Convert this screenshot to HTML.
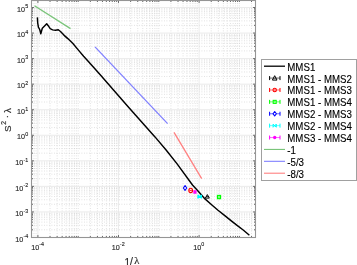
<!DOCTYPE html><html><head><meta charset="utf-8"><style>
html,body{margin:0;padding:0;background:#fff;width:357px;height:265px;overflow:hidden}
svg{display:block;will-change:transform;filter:blur(0.3px)}
text{font-family:"Liberation Sans",sans-serif}
</style></head><body>
<svg width="357" height="265" viewBox="0 0 357 265">
<rect x="0" y="0" width="357" height="265" fill="#fff"/>
<line x1="31.66" y1="0.5" x2="31.66" y2="237.5" stroke="#cccccc" stroke-width="0.7" stroke-dasharray="0.8 1.7"/><line x1="33.99" y1="0.5" x2="33.99" y2="237.5" stroke="#cccccc" stroke-width="0.7" stroke-dasharray="0.8 1.7"/><line x1="36.06" y1="0.5" x2="36.06" y2="237.5" stroke="#cccccc" stroke-width="0.7" stroke-dasharray="0.8 1.7"/><line x1="50.03" y1="0.5" x2="50.03" y2="237.5" stroke="#cccccc" stroke-width="0.7" stroke-dasharray="0.8 1.7"/><line x1="57.13" y1="0.5" x2="57.13" y2="237.5" stroke="#cccccc" stroke-width="0.7" stroke-dasharray="0.8 1.7"/><line x1="62.16" y1="0.5" x2="62.16" y2="237.5" stroke="#cccccc" stroke-width="0.7" stroke-dasharray="0.8 1.7"/><line x1="66.07" y1="0.5" x2="66.07" y2="237.5" stroke="#cccccc" stroke-width="0.7" stroke-dasharray="0.8 1.7"/><line x1="69.26" y1="0.5" x2="69.26" y2="237.5" stroke="#cccccc" stroke-width="0.7" stroke-dasharray="0.8 1.7"/><line x1="71.96" y1="0.5" x2="71.96" y2="237.5" stroke="#cccccc" stroke-width="0.7" stroke-dasharray="0.8 1.7"/><line x1="74.29" y1="0.5" x2="74.29" y2="237.5" stroke="#cccccc" stroke-width="0.7" stroke-dasharray="0.8 1.7"/><line x1="76.36" y1="0.5" x2="76.36" y2="237.5" stroke="#cccccc" stroke-width="0.7" stroke-dasharray="0.8 1.7"/><line x1="78.20" y1="0.5" x2="78.20" y2="237.5" stroke="#cccccc" stroke-width="0.7" stroke-dasharray="0.8 1.7"/><line x1="90.33" y1="0.5" x2="90.33" y2="237.5" stroke="#cccccc" stroke-width="0.7" stroke-dasharray="0.8 1.7"/><line x1="97.43" y1="0.5" x2="97.43" y2="237.5" stroke="#cccccc" stroke-width="0.7" stroke-dasharray="0.8 1.7"/><line x1="102.46" y1="0.5" x2="102.46" y2="237.5" stroke="#cccccc" stroke-width="0.7" stroke-dasharray="0.8 1.7"/><line x1="106.37" y1="0.5" x2="106.37" y2="237.5" stroke="#cccccc" stroke-width="0.7" stroke-dasharray="0.8 1.7"/><line x1="109.56" y1="0.5" x2="109.56" y2="237.5" stroke="#cccccc" stroke-width="0.7" stroke-dasharray="0.8 1.7"/><line x1="112.26" y1="0.5" x2="112.26" y2="237.5" stroke="#cccccc" stroke-width="0.7" stroke-dasharray="0.8 1.7"/><line x1="114.59" y1="0.5" x2="114.59" y2="237.5" stroke="#cccccc" stroke-width="0.7" stroke-dasharray="0.8 1.7"/><line x1="116.66" y1="0.5" x2="116.66" y2="237.5" stroke="#cccccc" stroke-width="0.7" stroke-dasharray="0.8 1.7"/><line x1="130.63" y1="0.5" x2="130.63" y2="237.5" stroke="#cccccc" stroke-width="0.7" stroke-dasharray="0.8 1.7"/><line x1="137.73" y1="0.5" x2="137.73" y2="237.5" stroke="#cccccc" stroke-width="0.7" stroke-dasharray="0.8 1.7"/><line x1="142.76" y1="0.5" x2="142.76" y2="237.5" stroke="#cccccc" stroke-width="0.7" stroke-dasharray="0.8 1.7"/><line x1="146.67" y1="0.5" x2="146.67" y2="237.5" stroke="#cccccc" stroke-width="0.7" stroke-dasharray="0.8 1.7"/><line x1="149.86" y1="0.5" x2="149.86" y2="237.5" stroke="#cccccc" stroke-width="0.7" stroke-dasharray="0.8 1.7"/><line x1="152.56" y1="0.5" x2="152.56" y2="237.5" stroke="#cccccc" stroke-width="0.7" stroke-dasharray="0.8 1.7"/><line x1="154.89" y1="0.5" x2="154.89" y2="237.5" stroke="#cccccc" stroke-width="0.7" stroke-dasharray="0.8 1.7"/><line x1="156.96" y1="0.5" x2="156.96" y2="237.5" stroke="#cccccc" stroke-width="0.7" stroke-dasharray="0.8 1.7"/><line x1="158.80" y1="0.5" x2="158.80" y2="237.5" stroke="#cccccc" stroke-width="0.7" stroke-dasharray="0.8 1.7"/><line x1="170.93" y1="0.5" x2="170.93" y2="237.5" stroke="#cccccc" stroke-width="0.7" stroke-dasharray="0.8 1.7"/><line x1="178.03" y1="0.5" x2="178.03" y2="237.5" stroke="#cccccc" stroke-width="0.7" stroke-dasharray="0.8 1.7"/><line x1="183.06" y1="0.5" x2="183.06" y2="237.5" stroke="#cccccc" stroke-width="0.7" stroke-dasharray="0.8 1.7"/><line x1="186.97" y1="0.5" x2="186.97" y2="237.5" stroke="#cccccc" stroke-width="0.7" stroke-dasharray="0.8 1.7"/><line x1="190.16" y1="0.5" x2="190.16" y2="237.5" stroke="#cccccc" stroke-width="0.7" stroke-dasharray="0.8 1.7"/><line x1="192.86" y1="0.5" x2="192.86" y2="237.5" stroke="#cccccc" stroke-width="0.7" stroke-dasharray="0.8 1.7"/><line x1="195.19" y1="0.5" x2="195.19" y2="237.5" stroke="#cccccc" stroke-width="0.7" stroke-dasharray="0.8 1.7"/><line x1="197.26" y1="0.5" x2="197.26" y2="237.5" stroke="#cccccc" stroke-width="0.7" stroke-dasharray="0.8 1.7"/><line x1="211.23" y1="0.5" x2="211.23" y2="237.5" stroke="#cccccc" stroke-width="0.7" stroke-dasharray="0.8 1.7"/><line x1="218.33" y1="0.5" x2="218.33" y2="237.5" stroke="#cccccc" stroke-width="0.7" stroke-dasharray="0.8 1.7"/><line x1="223.36" y1="0.5" x2="223.36" y2="237.5" stroke="#cccccc" stroke-width="0.7" stroke-dasharray="0.8 1.7"/><line x1="227.27" y1="0.5" x2="227.27" y2="237.5" stroke="#cccccc" stroke-width="0.7" stroke-dasharray="0.8 1.7"/><line x1="230.46" y1="0.5" x2="230.46" y2="237.5" stroke="#cccccc" stroke-width="0.7" stroke-dasharray="0.8 1.7"/><line x1="233.16" y1="0.5" x2="233.16" y2="237.5" stroke="#cccccc" stroke-width="0.7" stroke-dasharray="0.8 1.7"/><line x1="235.49" y1="0.5" x2="235.49" y2="237.5" stroke="#cccccc" stroke-width="0.7" stroke-dasharray="0.8 1.7"/><line x1="237.56" y1="0.5" x2="237.56" y2="237.5" stroke="#cccccc" stroke-width="0.7" stroke-dasharray="0.8 1.7"/><line x1="239.40" y1="0.5" x2="239.40" y2="237.5" stroke="#cccccc" stroke-width="0.7" stroke-dasharray="0.8 1.7"/><line x1="251.53" y1="0.5" x2="251.53" y2="237.5" stroke="#cccccc" stroke-width="0.7" stroke-dasharray="0.8 1.7"/><line x1="31.5" y1="229.81" x2="255.5" y2="229.81" stroke="#cccccc" stroke-width="0.7" stroke-dasharray="0.8 1.7"/><line x1="31.5" y1="225.31" x2="255.5" y2="225.31" stroke="#cccccc" stroke-width="0.7" stroke-dasharray="0.8 1.7"/><line x1="31.5" y1="222.12" x2="255.5" y2="222.12" stroke="#cccccc" stroke-width="0.7" stroke-dasharray="0.8 1.7"/><line x1="31.5" y1="219.64" x2="255.5" y2="219.64" stroke="#cccccc" stroke-width="0.7" stroke-dasharray="0.8 1.7"/><line x1="31.5" y1="217.62" x2="255.5" y2="217.62" stroke="#cccccc" stroke-width="0.7" stroke-dasharray="0.8 1.7"/><line x1="31.5" y1="215.91" x2="255.5" y2="215.91" stroke="#cccccc" stroke-width="0.7" stroke-dasharray="0.8 1.7"/><line x1="31.5" y1="214.42" x2="255.5" y2="214.42" stroke="#cccccc" stroke-width="0.7" stroke-dasharray="0.8 1.7"/><line x1="31.5" y1="213.12" x2="255.5" y2="213.12" stroke="#cccccc" stroke-width="0.7" stroke-dasharray="0.8 1.7"/><line x1="31.5" y1="204.25" x2="255.5" y2="204.25" stroke="#cccccc" stroke-width="0.7" stroke-dasharray="0.8 1.7"/><line x1="31.5" y1="199.75" x2="255.5" y2="199.75" stroke="#cccccc" stroke-width="0.7" stroke-dasharray="0.8 1.7"/><line x1="31.5" y1="196.56" x2="255.5" y2="196.56" stroke="#cccccc" stroke-width="0.7" stroke-dasharray="0.8 1.7"/><line x1="31.5" y1="194.09" x2="255.5" y2="194.09" stroke="#cccccc" stroke-width="0.7" stroke-dasharray="0.8 1.7"/><line x1="31.5" y1="192.06" x2="255.5" y2="192.06" stroke="#cccccc" stroke-width="0.7" stroke-dasharray="0.8 1.7"/><line x1="31.5" y1="190.35" x2="255.5" y2="190.35" stroke="#cccccc" stroke-width="0.7" stroke-dasharray="0.8 1.7"/><line x1="31.5" y1="188.87" x2="255.5" y2="188.87" stroke="#cccccc" stroke-width="0.7" stroke-dasharray="0.8 1.7"/><line x1="31.5" y1="187.56" x2="255.5" y2="187.56" stroke="#cccccc" stroke-width="0.7" stroke-dasharray="0.8 1.7"/><line x1="31.5" y1="178.70" x2="255.5" y2="178.70" stroke="#cccccc" stroke-width="0.7" stroke-dasharray="0.8 1.7"/><line x1="31.5" y1="174.20" x2="255.5" y2="174.20" stroke="#cccccc" stroke-width="0.7" stroke-dasharray="0.8 1.7"/><line x1="31.5" y1="171.01" x2="255.5" y2="171.01" stroke="#cccccc" stroke-width="0.7" stroke-dasharray="0.8 1.7"/><line x1="31.5" y1="168.53" x2="255.5" y2="168.53" stroke="#cccccc" stroke-width="0.7" stroke-dasharray="0.8 1.7"/><line x1="31.5" y1="166.51" x2="255.5" y2="166.51" stroke="#cccccc" stroke-width="0.7" stroke-dasharray="0.8 1.7"/><line x1="31.5" y1="164.79" x2="255.5" y2="164.79" stroke="#cccccc" stroke-width="0.7" stroke-dasharray="0.8 1.7"/><line x1="31.5" y1="163.31" x2="255.5" y2="163.31" stroke="#cccccc" stroke-width="0.7" stroke-dasharray="0.8 1.7"/><line x1="31.5" y1="162.01" x2="255.5" y2="162.01" stroke="#cccccc" stroke-width="0.7" stroke-dasharray="0.8 1.7"/><line x1="31.5" y1="153.14" x2="255.5" y2="153.14" stroke="#cccccc" stroke-width="0.7" stroke-dasharray="0.8 1.7"/><line x1="31.5" y1="148.64" x2="255.5" y2="148.64" stroke="#cccccc" stroke-width="0.7" stroke-dasharray="0.8 1.7"/><line x1="31.5" y1="145.45" x2="255.5" y2="145.45" stroke="#cccccc" stroke-width="0.7" stroke-dasharray="0.8 1.7"/><line x1="31.5" y1="142.97" x2="255.5" y2="142.97" stroke="#cccccc" stroke-width="0.7" stroke-dasharray="0.8 1.7"/><line x1="31.5" y1="140.95" x2="255.5" y2="140.95" stroke="#cccccc" stroke-width="0.7" stroke-dasharray="0.8 1.7"/><line x1="31.5" y1="139.24" x2="255.5" y2="139.24" stroke="#cccccc" stroke-width="0.7" stroke-dasharray="0.8 1.7"/><line x1="31.5" y1="137.76" x2="255.5" y2="137.76" stroke="#cccccc" stroke-width="0.7" stroke-dasharray="0.8 1.7"/><line x1="31.5" y1="136.45" x2="255.5" y2="136.45" stroke="#cccccc" stroke-width="0.7" stroke-dasharray="0.8 1.7"/><line x1="31.5" y1="127.59" x2="255.5" y2="127.59" stroke="#cccccc" stroke-width="0.7" stroke-dasharray="0.8 1.7"/><line x1="31.5" y1="123.09" x2="255.5" y2="123.09" stroke="#cccccc" stroke-width="0.7" stroke-dasharray="0.8 1.7"/><line x1="31.5" y1="119.89" x2="255.5" y2="119.89" stroke="#cccccc" stroke-width="0.7" stroke-dasharray="0.8 1.7"/><line x1="31.5" y1="117.42" x2="255.5" y2="117.42" stroke="#cccccc" stroke-width="0.7" stroke-dasharray="0.8 1.7"/><line x1="31.5" y1="115.39" x2="255.5" y2="115.39" stroke="#cccccc" stroke-width="0.7" stroke-dasharray="0.8 1.7"/><line x1="31.5" y1="113.68" x2="255.5" y2="113.68" stroke="#cccccc" stroke-width="0.7" stroke-dasharray="0.8 1.7"/><line x1="31.5" y1="112.20" x2="255.5" y2="112.20" stroke="#cccccc" stroke-width="0.7" stroke-dasharray="0.8 1.7"/><line x1="31.5" y1="110.89" x2="255.5" y2="110.89" stroke="#cccccc" stroke-width="0.7" stroke-dasharray="0.8 1.7"/><line x1="31.5" y1="102.03" x2="255.5" y2="102.03" stroke="#cccccc" stroke-width="0.7" stroke-dasharray="0.8 1.7"/><line x1="31.5" y1="97.53" x2="255.5" y2="97.53" stroke="#cccccc" stroke-width="0.7" stroke-dasharray="0.8 1.7"/><line x1="31.5" y1="94.34" x2="255.5" y2="94.34" stroke="#cccccc" stroke-width="0.7" stroke-dasharray="0.8 1.7"/><line x1="31.5" y1="91.86" x2="255.5" y2="91.86" stroke="#cccccc" stroke-width="0.7" stroke-dasharray="0.8 1.7"/><line x1="31.5" y1="89.84" x2="255.5" y2="89.84" stroke="#cccccc" stroke-width="0.7" stroke-dasharray="0.8 1.7"/><line x1="31.5" y1="88.13" x2="255.5" y2="88.13" stroke="#cccccc" stroke-width="0.7" stroke-dasharray="0.8 1.7"/><line x1="31.5" y1="86.64" x2="255.5" y2="86.64" stroke="#cccccc" stroke-width="0.7" stroke-dasharray="0.8 1.7"/><line x1="31.5" y1="85.34" x2="255.5" y2="85.34" stroke="#cccccc" stroke-width="0.7" stroke-dasharray="0.8 1.7"/><line x1="31.5" y1="76.47" x2="255.5" y2="76.47" stroke="#cccccc" stroke-width="0.7" stroke-dasharray="0.8 1.7"/><line x1="31.5" y1="71.97" x2="255.5" y2="71.97" stroke="#cccccc" stroke-width="0.7" stroke-dasharray="0.8 1.7"/><line x1="31.5" y1="68.78" x2="255.5" y2="68.78" stroke="#cccccc" stroke-width="0.7" stroke-dasharray="0.8 1.7"/><line x1="31.5" y1="66.31" x2="255.5" y2="66.31" stroke="#cccccc" stroke-width="0.7" stroke-dasharray="0.8 1.7"/><line x1="31.5" y1="64.28" x2="255.5" y2="64.28" stroke="#cccccc" stroke-width="0.7" stroke-dasharray="0.8 1.7"/><line x1="31.5" y1="62.57" x2="255.5" y2="62.57" stroke="#cccccc" stroke-width="0.7" stroke-dasharray="0.8 1.7"/><line x1="31.5" y1="61.09" x2="255.5" y2="61.09" stroke="#cccccc" stroke-width="0.7" stroke-dasharray="0.8 1.7"/><line x1="31.5" y1="59.78" x2="255.5" y2="59.78" stroke="#cccccc" stroke-width="0.7" stroke-dasharray="0.8 1.7"/><line x1="31.5" y1="50.92" x2="255.5" y2="50.92" stroke="#cccccc" stroke-width="0.7" stroke-dasharray="0.8 1.7"/><line x1="31.5" y1="46.42" x2="255.5" y2="46.42" stroke="#cccccc" stroke-width="0.7" stroke-dasharray="0.8 1.7"/><line x1="31.5" y1="43.23" x2="255.5" y2="43.23" stroke="#cccccc" stroke-width="0.7" stroke-dasharray="0.8 1.7"/><line x1="31.5" y1="40.75" x2="255.5" y2="40.75" stroke="#cccccc" stroke-width="0.7" stroke-dasharray="0.8 1.7"/><line x1="31.5" y1="38.73" x2="255.5" y2="38.73" stroke="#cccccc" stroke-width="0.7" stroke-dasharray="0.8 1.7"/><line x1="31.5" y1="37.01" x2="255.5" y2="37.01" stroke="#cccccc" stroke-width="0.7" stroke-dasharray="0.8 1.7"/><line x1="31.5" y1="35.53" x2="255.5" y2="35.53" stroke="#cccccc" stroke-width="0.7" stroke-dasharray="0.8 1.7"/><line x1="31.5" y1="34.23" x2="255.5" y2="34.23" stroke="#cccccc" stroke-width="0.7" stroke-dasharray="0.8 1.7"/><line x1="31.5" y1="25.36" x2="255.5" y2="25.36" stroke="#cccccc" stroke-width="0.7" stroke-dasharray="0.8 1.7"/><line x1="31.5" y1="20.86" x2="255.5" y2="20.86" stroke="#cccccc" stroke-width="0.7" stroke-dasharray="0.8 1.7"/><line x1="31.5" y1="17.67" x2="255.5" y2="17.67" stroke="#cccccc" stroke-width="0.7" stroke-dasharray="0.8 1.7"/><line x1="31.5" y1="15.19" x2="255.5" y2="15.19" stroke="#cccccc" stroke-width="0.7" stroke-dasharray="0.8 1.7"/><line x1="31.5" y1="13.17" x2="255.5" y2="13.17" stroke="#cccccc" stroke-width="0.7" stroke-dasharray="0.8 1.7"/><line x1="31.5" y1="11.46" x2="255.5" y2="11.46" stroke="#cccccc" stroke-width="0.7" stroke-dasharray="0.8 1.7"/><line x1="31.5" y1="9.98" x2="255.5" y2="9.98" stroke="#cccccc" stroke-width="0.7" stroke-dasharray="0.8 1.7"/><line x1="31.5" y1="8.67" x2="255.5" y2="8.67" stroke="#cccccc" stroke-width="0.7" stroke-dasharray="0.8 1.7"/><line x1="37.90" y1="0.5" x2="37.90" y2="237.5" stroke="#e6e6e6" stroke-width="0.8"/><line x1="118.50" y1="0.5" x2="118.50" y2="237.5" stroke="#e6e6e6" stroke-width="0.8"/><line x1="199.10" y1="0.5" x2="199.10" y2="237.5" stroke="#e6e6e6" stroke-width="0.8"/><line x1="31.5" y1="237.50" x2="255.5" y2="237.50" stroke="#e6e6e6" stroke-width="0.8"/><line x1="31.5" y1="211.95" x2="255.5" y2="211.95" stroke="#e6e6e6" stroke-width="0.8"/><line x1="31.5" y1="186.39" x2="255.5" y2="186.39" stroke="#e6e6e6" stroke-width="0.8"/><line x1="31.5" y1="160.84" x2="255.5" y2="160.84" stroke="#e6e6e6" stroke-width="0.8"/><line x1="31.5" y1="135.28" x2="255.5" y2="135.28" stroke="#e6e6e6" stroke-width="0.8"/><line x1="31.5" y1="109.72" x2="255.5" y2="109.72" stroke="#e6e6e6" stroke-width="0.8"/><line x1="31.5" y1="84.17" x2="255.5" y2="84.17" stroke="#e6e6e6" stroke-width="0.8"/><line x1="31.5" y1="58.61" x2="255.5" y2="58.61" stroke="#e6e6e6" stroke-width="0.8"/><line x1="31.5" y1="33.06" x2="255.5" y2="33.06" stroke="#e6e6e6" stroke-width="0.8"/><line x1="31.5" y1="7.50" x2="255.5" y2="7.50" stroke="#e6e6e6" stroke-width="0.8"/>
<line x1="34.5" y1="5.7" x2="70.5" y2="28.6" stroke="#7ac47a" stroke-width="1.3"/>
<line x1="95" y1="46.9" x2="167.6" y2="123.6" stroke="#8080ff" stroke-width="1.3"/>
<line x1="174" y1="132.4" x2="201.7" y2="178.6" stroke="#ff8080" stroke-width="1.3"/>
<path d="M37.4,17.4 L37.7,22.8 L38.4,27.2 L39.7,29.5 L40.8,33.8 L42.3,28.2 L44.8,25.7 L46.7,23.8 L48.2,25.7 L50.2,28.7 L52.6,29.9 L55.5,30.3 L58.3,29.8 L60.5,31.5 L63.9,35.1 L67.8,38.6 L72.7,43.3 L78,49.6 L83.6,56.2 L88.6,61.8 L100,74.5 L127.9,106.4 L155,136.9 L166.3,150.3 L177.1,163.9 L192.5,185 L198,191 L205,198.9 L211.6,204.7 L218,210.3 L224.8,215.6 L231.6,221.1 L237.4,225.6 L243.2,230.0 L249.4,235.3" fill="none" stroke="#000" stroke-width="1.45" stroke-linejoin="round" stroke-linecap="butt"/>
<path d="M185.05,185.55 L186.75,188.0 L185.05,190.45 L183.35000000000002,188.0 Z" fill="none" stroke="#0000ff" stroke-width="1.05" stroke-linejoin="round"/>
<ellipse cx="190.7" cy="190.4" rx="1.85" ry="2.15" fill="none" stroke="#ff0000" stroke-width="1.15"/><path d="M189.58999999999997,190.4 H191.81" stroke="#ff0000" stroke-width="0.9199999999999999"/>
<rect x="193.35" y="190.25" width="3.2" height="3.5" fill="#ff00ff"/>
<path d="M197.89999999999998,194.79999999999998 L201.5,198.4 M197.89999999999998,198.4 L201.5,194.79999999999998 M197.89999999999998,194.79999999999998 V198.4 M201.5,194.79999999999998 V198.4" fill="none" stroke="#00ffff" stroke-width="1.1"/>
<path d="M207.35,194.6 L209.35,198.1 L205.35,198.1 Z" fill="none" stroke="#000000" stroke-width="1.0" stroke-linejoin="round"/><path d="M206.15,196.6 H208.54999999999998" stroke="#000000" stroke-width="0.8"/>
<rect x="217.45" y="195.45000000000002" width="3.1" height="3.2" fill="none" stroke="#00ff00" stroke-width="1.2"/><path d="M218.07,197.05 H219.93" stroke="#00ff00" stroke-width="0.96"/>
<path d="M37.90,237.5 v-2.4 M37.90,0.5 v2.4 M118.50,237.5 v-2.4 M118.50,0.5 v2.4 M199.10,237.5 v-2.4 M199.10,0.5 v2.4 M50.03,237.5 v-1.5 M50.03,0.5 v1.5 M57.13,237.5 v-1.5 M57.13,0.5 v1.5 M62.16,237.5 v-1.5 M62.16,0.5 v1.5 M66.07,237.5 v-1.5 M66.07,0.5 v1.5 M69.26,237.5 v-1.5 M69.26,0.5 v1.5 M71.96,237.5 v-1.5 M71.96,0.5 v1.5 M74.29,237.5 v-1.5 M74.29,0.5 v1.5 M76.36,237.5 v-1.5 M76.36,0.5 v1.5 M78.20,237.5 v-1.5 M78.20,0.5 v1.5 M90.33,237.5 v-1.5 M90.33,0.5 v1.5 M97.43,237.5 v-1.5 M97.43,0.5 v1.5 M102.46,237.5 v-1.5 M102.46,0.5 v1.5 M106.37,237.5 v-1.5 M106.37,0.5 v1.5 M109.56,237.5 v-1.5 M109.56,0.5 v1.5 M112.26,237.5 v-1.5 M112.26,0.5 v1.5 M114.59,237.5 v-1.5 M114.59,0.5 v1.5 M116.66,237.5 v-1.5 M116.66,0.5 v1.5 M130.63,237.5 v-1.5 M130.63,0.5 v1.5 M137.73,237.5 v-1.5 M137.73,0.5 v1.5 M142.76,237.5 v-1.5 M142.76,0.5 v1.5 M146.67,237.5 v-1.5 M146.67,0.5 v1.5 M149.86,237.5 v-1.5 M149.86,0.5 v1.5 M152.56,237.5 v-1.5 M152.56,0.5 v1.5 M154.89,237.5 v-1.5 M154.89,0.5 v1.5 M156.96,237.5 v-1.5 M156.96,0.5 v1.5 M158.80,237.5 v-1.5 M158.80,0.5 v1.5 M170.93,237.5 v-1.5 M170.93,0.5 v1.5 M178.03,237.5 v-1.5 M178.03,0.5 v1.5 M183.06,237.5 v-1.5 M183.06,0.5 v1.5 M186.97,237.5 v-1.5 M186.97,0.5 v1.5 M190.16,237.5 v-1.5 M190.16,0.5 v1.5 M192.86,237.5 v-1.5 M192.86,0.5 v1.5 M195.19,237.5 v-1.5 M195.19,0.5 v1.5 M197.26,237.5 v-1.5 M197.26,0.5 v1.5 M211.23,237.5 v-1.5 M211.23,0.5 v1.5 M218.33,237.5 v-1.5 M218.33,0.5 v1.5 M223.36,237.5 v-1.5 M223.36,0.5 v1.5 M227.27,237.5 v-1.5 M227.27,0.5 v1.5 M230.46,237.5 v-1.5 M230.46,0.5 v1.5 M233.16,237.5 v-1.5 M233.16,0.5 v1.5 M235.49,237.5 v-1.5 M235.49,0.5 v1.5 M237.56,237.5 v-1.5 M237.56,0.5 v1.5 M239.40,237.5 v-1.5 M239.40,0.5 v1.5 M251.53,237.5 v-1.5 M251.53,0.5 v1.5 M31.5,237.50 h2.4 M255.5,237.50 h-2.4 M31.5,211.95 h2.4 M255.5,211.95 h-2.4 M31.5,186.39 h2.4 M255.5,186.39 h-2.4 M31.5,160.84 h2.4 M255.5,160.84 h-2.4 M31.5,135.28 h2.4 M255.5,135.28 h-2.4 M31.5,109.72 h2.4 M255.5,109.72 h-2.4 M31.5,84.17 h2.4 M255.5,84.17 h-2.4 M31.5,58.61 h2.4 M255.5,58.61 h-2.4 M31.5,33.06 h2.4 M255.5,33.06 h-2.4 M31.5,7.50 h2.4 M255.5,7.50 h-2.4 M31.5,229.81 h1.5 M255.5,229.81 h-1.5 M31.5,225.31 h1.5 M255.5,225.31 h-1.5 M31.5,222.12 h1.5 M255.5,222.12 h-1.5 M31.5,219.64 h1.5 M255.5,219.64 h-1.5 M31.5,217.62 h1.5 M255.5,217.62 h-1.5 M31.5,215.91 h1.5 M255.5,215.91 h-1.5 M31.5,214.42 h1.5 M255.5,214.42 h-1.5 M31.5,213.12 h1.5 M255.5,213.12 h-1.5 M31.5,204.25 h1.5 M255.5,204.25 h-1.5 M31.5,199.75 h1.5 M255.5,199.75 h-1.5 M31.5,196.56 h1.5 M255.5,196.56 h-1.5 M31.5,194.09 h1.5 M255.5,194.09 h-1.5 M31.5,192.06 h1.5 M255.5,192.06 h-1.5 M31.5,190.35 h1.5 M255.5,190.35 h-1.5 M31.5,188.87 h1.5 M255.5,188.87 h-1.5 M31.5,187.56 h1.5 M255.5,187.56 h-1.5 M31.5,178.70 h1.5 M255.5,178.70 h-1.5 M31.5,174.20 h1.5 M255.5,174.20 h-1.5 M31.5,171.01 h1.5 M255.5,171.01 h-1.5 M31.5,168.53 h1.5 M255.5,168.53 h-1.5 M31.5,166.51 h1.5 M255.5,166.51 h-1.5 M31.5,164.79 h1.5 M255.5,164.79 h-1.5 M31.5,163.31 h1.5 M255.5,163.31 h-1.5 M31.5,162.01 h1.5 M255.5,162.01 h-1.5 M31.5,153.14 h1.5 M255.5,153.14 h-1.5 M31.5,148.64 h1.5 M255.5,148.64 h-1.5 M31.5,145.45 h1.5 M255.5,145.45 h-1.5 M31.5,142.97 h1.5 M255.5,142.97 h-1.5 M31.5,140.95 h1.5 M255.5,140.95 h-1.5 M31.5,139.24 h1.5 M255.5,139.24 h-1.5 M31.5,137.76 h1.5 M255.5,137.76 h-1.5 M31.5,136.45 h1.5 M255.5,136.45 h-1.5 M31.5,127.59 h1.5 M255.5,127.59 h-1.5 M31.5,123.09 h1.5 M255.5,123.09 h-1.5 M31.5,119.89 h1.5 M255.5,119.89 h-1.5 M31.5,117.42 h1.5 M255.5,117.42 h-1.5 M31.5,115.39 h1.5 M255.5,115.39 h-1.5 M31.5,113.68 h1.5 M255.5,113.68 h-1.5 M31.5,112.20 h1.5 M255.5,112.20 h-1.5 M31.5,110.89 h1.5 M255.5,110.89 h-1.5 M31.5,102.03 h1.5 M255.5,102.03 h-1.5 M31.5,97.53 h1.5 M255.5,97.53 h-1.5 M31.5,94.34 h1.5 M255.5,94.34 h-1.5 M31.5,91.86 h1.5 M255.5,91.86 h-1.5 M31.5,89.84 h1.5 M255.5,89.84 h-1.5 M31.5,88.13 h1.5 M255.5,88.13 h-1.5 M31.5,86.64 h1.5 M255.5,86.64 h-1.5 M31.5,85.34 h1.5 M255.5,85.34 h-1.5 M31.5,76.47 h1.5 M255.5,76.47 h-1.5 M31.5,71.97 h1.5 M255.5,71.97 h-1.5 M31.5,68.78 h1.5 M255.5,68.78 h-1.5 M31.5,66.31 h1.5 M255.5,66.31 h-1.5 M31.5,64.28 h1.5 M255.5,64.28 h-1.5 M31.5,62.57 h1.5 M255.5,62.57 h-1.5 M31.5,61.09 h1.5 M255.5,61.09 h-1.5 M31.5,59.78 h1.5 M255.5,59.78 h-1.5 M31.5,50.92 h1.5 M255.5,50.92 h-1.5 M31.5,46.42 h1.5 M255.5,46.42 h-1.5 M31.5,43.23 h1.5 M255.5,43.23 h-1.5 M31.5,40.75 h1.5 M255.5,40.75 h-1.5 M31.5,38.73 h1.5 M255.5,38.73 h-1.5 M31.5,37.01 h1.5 M255.5,37.01 h-1.5 M31.5,35.53 h1.5 M255.5,35.53 h-1.5 M31.5,34.23 h1.5 M255.5,34.23 h-1.5 M31.5,25.36 h1.5 M255.5,25.36 h-1.5 M31.5,20.86 h1.5 M255.5,20.86 h-1.5 M31.5,17.67 h1.5 M255.5,17.67 h-1.5 M31.5,15.19 h1.5 M255.5,15.19 h-1.5 M31.5,13.17 h1.5 M255.5,13.17 h-1.5 M31.5,11.46 h1.5 M255.5,11.46 h-1.5 M31.5,9.98 h1.5 M255.5,9.98 h-1.5 M31.5,8.67 h1.5 M255.5,8.67 h-1.5" stroke="#666666" stroke-width="1.0" fill="none"/>
<rect x="31.5" y="0.5" width="224.0" height="237.0" fill="none" stroke="#959595" stroke-width="1.1"/>
<text transform="translate(28.2,241.65) scale(1,1.12)" font-size="7.2" text-anchor="end" fill="#262626" stroke="#262626" stroke-width="0.12">10<tspan font-size="5.4" dx="0.1" dy="-3.0">-4</tspan></text><text transform="translate(28.2,216.10) scale(1,1.12)" font-size="7.2" text-anchor="end" fill="#262626" stroke="#262626" stroke-width="0.12">10<tspan font-size="5.4" dx="0.1" dy="-3.0">-3</tspan></text><text transform="translate(28.2,190.54) scale(1,1.12)" font-size="7.2" text-anchor="end" fill="#262626" stroke="#262626" stroke-width="0.12">10<tspan font-size="5.4" dx="0.1" dy="-3.0">-2</tspan></text><text transform="translate(28.2,164.99) scale(1,1.12)" font-size="7.2" text-anchor="end" fill="#262626" stroke="#262626" stroke-width="0.12">10<tspan font-size="5.4" dx="0.1" dy="-3.0">-1</tspan></text><text transform="translate(28.2,139.43) scale(1,1.12)" font-size="7.2" text-anchor="end" fill="#262626" stroke="#262626" stroke-width="0.12">10<tspan font-size="5.4" dx="0.1" dy="-3.0">0</tspan></text><text transform="translate(28.2,113.87) scale(1,1.12)" font-size="7.2" text-anchor="end" fill="#262626" stroke="#262626" stroke-width="0.12">10<tspan font-size="5.4" dx="0.1" dy="-3.0">1</tspan></text><text transform="translate(28.2,88.32) scale(1,1.12)" font-size="7.2" text-anchor="end" fill="#262626" stroke="#262626" stroke-width="0.12">10<tspan font-size="5.4" dx="0.1" dy="-3.0">2</tspan></text><text transform="translate(28.2,62.76) scale(1,1.12)" font-size="7.2" text-anchor="end" fill="#262626" stroke="#262626" stroke-width="0.12">10<tspan font-size="5.4" dx="0.1" dy="-3.0">3</tspan></text><text transform="translate(28.2,37.21) scale(1,1.12)" font-size="7.2" text-anchor="end" fill="#262626" stroke="#262626" stroke-width="0.12">10<tspan font-size="5.4" dx="0.1" dy="-3.0">4</tspan></text><text transform="translate(28.2,11.65) scale(1,1.12)" font-size="7.2" text-anchor="end" fill="#262626" stroke="#262626" stroke-width="0.12">10<tspan font-size="5.4" dx="0.1" dy="-3.0">5</tspan></text><text transform="translate(37.60,249.6) scale(1,1.1)" font-size="7.2" text-anchor="middle" fill="#262626" stroke="#262626" stroke-width="0.12">10<tspan font-size="5.4" dx="0.1" dy="-2.9">-4</tspan></text><text transform="translate(118.20,249.6) scale(1,1.1)" font-size="7.2" text-anchor="middle" fill="#262626" stroke="#262626" stroke-width="0.12">10<tspan font-size="5.4" dx="0.1" dy="-2.9">-2</tspan></text><text transform="translate(198.80,249.6) scale(1,1.1)" font-size="7.2" text-anchor="middle" fill="#262626" stroke="#262626" stroke-width="0.12">10<tspan font-size="5.4" dx="0.1" dy="-2.9">0</tspan></text>
<g fill="#262626" stroke="#262626" stroke-width="0.15"><text x="124.4" y="265.5" font-size="10">1</text><text x="129.9" y="264.6" font-size="10.5" transform="skewX(0)">/</text><text x="136.8" y="264.0" font-size="10.5" text-anchor="middle" style="font-family:'Liberation Serif',serif">λ</text></g>
<g transform="translate(11.2,132.0) rotate(-90)" fill="#262626" stroke="#262626" stroke-width="0.15" font-size="9.8"><text x="0" y="0">S</text><text x="7.2" y="-5.1" font-size="6.8">2</text><text x="15.4" y="-1.0" text-anchor="middle">·</text><text x="21.4" y="0" text-anchor="middle">λ</text></g>
<rect x="261.5" y="59.5" width="95" height="121" fill="#fff" stroke="#a0a0a0" stroke-width="1.0"/>
<text transform="translate(287.3,70.60) scale(1,1.1)" font-size="9.7" fill="#000" stroke="#000" stroke-width="0.12">MMS1</text>
<line x1="264" y1="66.2" x2="285" y2="66.2" stroke="#000" stroke-width="1.3"/>
<text transform="translate(287.3,82.52) scale(1,1.1)" font-size="9.7" fill="#000" stroke="#000" stroke-width="0.12">MMS1 - MMS2</text>
<path d="M269.6,78.09 H280" stroke="#000" stroke-width="0.6" fill="none"/><path d="M269.6,76.09 v4 M280,76.09 v4" stroke="#000" stroke-width="1.0" fill="none"/>
<path d="M274.7,75.69 L277.0,80.065 L272.4,80.065 Z" fill="#fff" stroke="#000" stroke-width="1.0" stroke-linejoin="round"/><path d="M273.32,78.19 H276.08" stroke="#000" stroke-width="0.8"/>
<text transform="translate(287.3,94.44) scale(1,1.1)" font-size="9.7" fill="#000" stroke="#000" stroke-width="0.12">MMS1 - MMS3</text>
<path d="M269.6,89.98 H280" stroke="#ff0000" stroke-width="0.6" fill="none"/><path d="M269.6,87.98 v4 M280,87.98 v4" stroke="#ff0000" stroke-width="1.0" fill="none"/>
<ellipse cx="274.7" cy="89.98" rx="1.7" ry="1.7" fill="#fff" stroke="#ff0000" stroke-width="1.1"/><path d="M273.68,89.98 H275.71999999999997" stroke="#ff0000" stroke-width="0.8800000000000001"/>
<text transform="translate(287.3,106.36) scale(1,1.1)" font-size="9.7" fill="#000" stroke="#000" stroke-width="0.12">MMS1 - MMS4</text>
<path d="M269.6,101.87 H280" stroke="#00ff00" stroke-width="0.6" fill="none"/><path d="M269.6,99.87 v4 M280,99.87 v4" stroke="#00ff00" stroke-width="1.0" fill="none"/>
<rect x="273.2" y="100.37" width="3.0" height="3.0" fill="#fff" stroke="#00ff00" stroke-width="1.1"/><path d="M273.8,101.87 H275.59999999999997" stroke="#00ff00" stroke-width="0.8800000000000001"/>
<text transform="translate(287.3,118.28) scale(1,1.1)" font-size="9.7" fill="#000" stroke="#000" stroke-width="0.12">MMS2 - MMS3</text>
<path d="M269.6,113.76 H280" stroke="#0000ff" stroke-width="0.6" fill="none"/><path d="M269.6,111.76 v4 M280,111.76 v4" stroke="#0000ff" stroke-width="1.0" fill="none"/>
<path d="M274.7,111.56 L276.4,113.76 L274.7,115.96000000000001 L273.0,113.76 Z" fill="#fff" stroke="#0000ff" stroke-width="1.1" stroke-linejoin="round"/>
<text transform="translate(287.3,130.20) scale(1,1.1)" font-size="9.7" fill="#000" stroke="#000" stroke-width="0.12">MMS2 - MMS4</text>
<path d="M269.6,125.65 H280" stroke="#00ffff" stroke-width="0.6" fill="none"/><path d="M269.6,123.65 v4 M280,123.65 v4" stroke="#00ffff" stroke-width="1.0" fill="none"/>
<path d="M273.09999999999997,124.05000000000001 L276.3,127.25 M273.09999999999997,127.25 L276.3,124.05000000000001 M273.09999999999997,124.05000000000001 V127.25 M276.3,124.05000000000001 V127.25" fill="#fff" stroke="#00ffff" stroke-width="1.0"/>
<text transform="translate(287.3,142.12) scale(1,1.1)" font-size="9.7" fill="#000" stroke="#000" stroke-width="0.12">MMS3 - MMS4</text>
<path d="M269.6,137.54000000000002 H280" stroke="#ff00ff" stroke-width="0.6" fill="none"/><path d="M269.6,135.54000000000002 v4 M280,135.54000000000002 v4" stroke="#ff00ff" stroke-width="1.0" fill="none"/>
<circle cx="274.7" cy="137.54000000000002" r="1.7" fill="#ff00ff"/>
<text transform="translate(287.3,154.04) scale(1,1.1)" font-size="9.7" fill="#000" stroke="#000" stroke-width="0.12">-1</text>
<line x1="264" y1="149.43" x2="285" y2="149.43" stroke="#7ac47a" stroke-width="1.1"/>
<text transform="translate(287.3,165.96) scale(1,1.1)" font-size="9.7" fill="#000" stroke="#000" stroke-width="0.12">-5/3</text>
<line x1="264" y1="161.32" x2="285" y2="161.32" stroke="#8080ff" stroke-width="1.1"/>
<text transform="translate(287.3,177.88) scale(1,1.1)" font-size="9.7" fill="#000" stroke="#000" stroke-width="0.12">-8/3</text>
<line x1="264" y1="173.21" x2="285" y2="173.21" stroke="#ff8080" stroke-width="1.1"/>
</svg></body></html>
